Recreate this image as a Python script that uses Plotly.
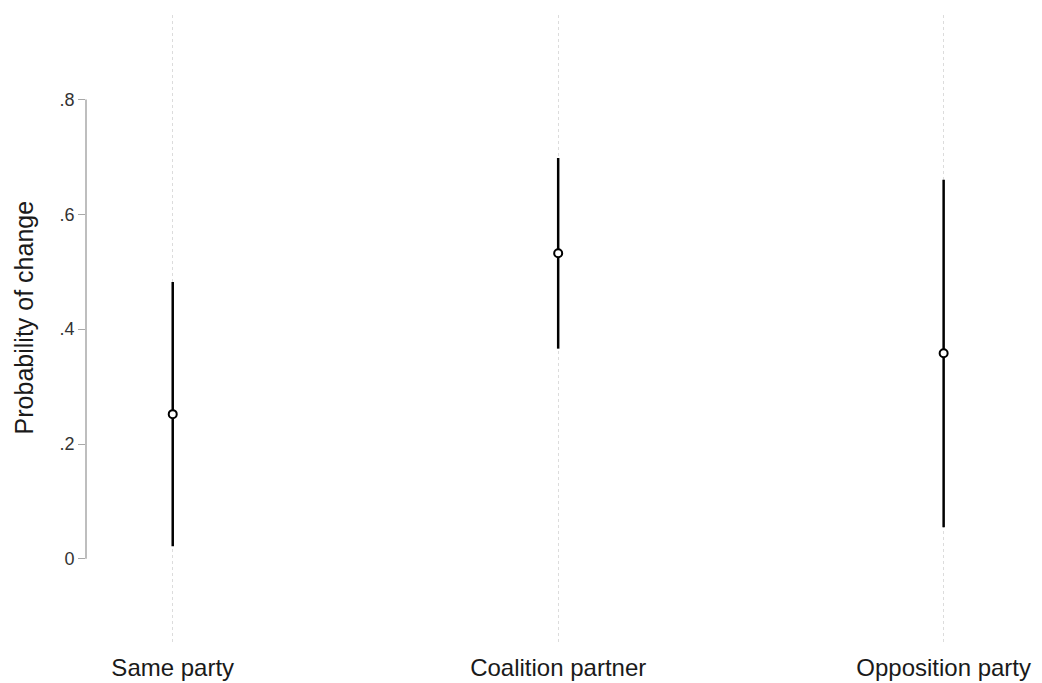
import plotly.graph_objects as go

# Predicted probability of change by sender type, with 95% confidence intervals
categories = ["Same party", "Coalition partner", "Opposition party"]
estimate = [0.252, 0.532, 0.358]
ci_low = [0.022, 0.366, 0.055]
ci_high = [0.482, 0.698, 0.660]

y_tickvals = [0, 0.2, 0.4, 0.6, 0.8]
y_ticktext = ["0", ".2", ".4", ".6", ".8"]

xpos = list(range(1, len(categories) + 1))

# Vertical CI segments, separated by gaps
seg_x, seg_y = [], []
for x, lo, hi in zip(xpos, ci_low, ci_high):
    seg_x += [x, x, None]
    seg_y += [lo, hi, None]

fig = go.Figure()
fig.add_trace(go.Scatter(
    x=seg_x, y=seg_y, mode="lines",
    line=dict(color="black", width=2.5),
    hoverinfo="skip", showlegend=False,
))
fig.add_trace(go.Scatter(
    x=xpos, y=estimate, mode="markers",
    marker=dict(symbol="circle", size=8, color="white",
                line=dict(color="black", width=2)),
    showlegend=False,
))

# Axis line spans only the labelled range
fig.add_shape(type="line", xref="paper", yref="y",
              x0=0, x1=0, y0=y_tickvals[0], y1=y_tickvals[-1],
              line=dict(color="#a8a8a8", width=1.5))

# Y-axis title
fig.add_annotation(text="Probability of change", textangle=-90,
                   xref="paper", yref="paper", x=-0.065, y=0.52,
                   xanchor="center", yanchor="middle", showarrow=False,
                   font=dict(size=25, color="#1a1a1a"))

fig.update_layout(
    width=1042, height=683,
    margin=dict(l=86, r=2, t=15, b=33),
    paper_bgcolor="white", plot_bgcolor="white",
    font=dict(family="Liberation Sans, Arial, sans-serif", color="#1a1a1a"),
    xaxis=dict(
        range=[0.775, 3.25],
        tickvals=xpos, ticktext=categories,
        tickfont=dict(size=24, color="#1a1a1a"),
        showgrid=True, gridcolor="#dcdcdc", griddash="dot", gridwidth=1,
        zeroline=False, showline=False,
        ticks="outside", ticklen=1, tickcolor="rgba(0,0,0,0)",
    ),
    yaxis=dict(
        range=[-0.15, 0.947],
        tickvals=y_tickvals, ticktext=y_ticktext,
        tickfont=dict(size=18, color="#333333"),
        ticks="outside", ticklen=7, tickcolor="#a8a8a8", tickwidth=1.2,
        showgrid=False, zeroline=False, showline=False,
    ),
)

fig.write_html("out.html")
